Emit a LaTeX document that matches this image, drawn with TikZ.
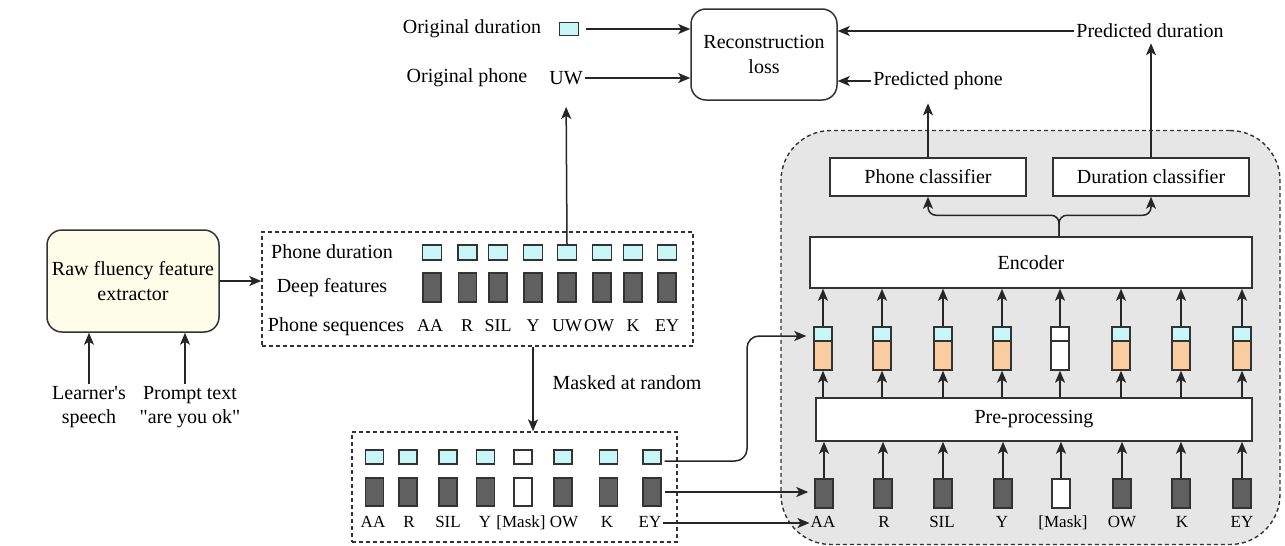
\documentclass[tikz,border=0pt]{standalone}
\usepackage{fontspec}
\setmainfont{Liberation Serif}[Ligatures=TeXOff]
\usetikzlibrary{arrows.meta,calc}

\definecolor{edge}{HTML}{333333}
\definecolor{dur}{HTML}{C9F6F7}
\definecolor{feat}{HTML}{606060}
\definecolor{emb}{HTML}{FACDA0}
\definecolor{panelgray}{HTML}{E6E6E6}
\definecolor{rawfill}{HTML}{FEFDE9}

\tikzset{
  txt/.style={font=\fontsize{20}{24.5}\selectfont, inner sep=2pt, align=center},
  phonelbl/.style={font=\fontsize{18}{22}\selectfont, text height=13pt, text depth=4pt, inner sep=1pt},
  smalllbl/.style={phonelbl, font=\fontsize{17}{21}\selectfont},
  box/.style={txt, draw=edge, line width=1.5pt, fill=white},
  roundbox/.style={box, rounded corners=15pt},
  dashbox/.style={draw=edge, line width=1.4pt, dash pattern=on 4pt off 3pt},
  panel/.style={draw=edge, line width=1.4pt, dash pattern=on 4pt off 3pt,
    fill=panelgray, rounded corners=50pt},
  cell/.style={draw=edge, line width=1.4pt, inner sep=0pt, minimum width=18pt},
  durcell/.style={cell, fill=dur, minimum height=14pt},
  featcell/.style={cell, fill=feat, minimum height=29pt},
  embcell/.style={cell, fill=emb, minimum height=29pt},
  maskcell/.style={fill=white},
  arr/.style={-{Stealth[length=12pt,width=10pt,inset=3pt]}, line width=1.5pt, draw=black!85},
}

\begin{document}
\begin{tikzpicture}[x=1pt,y=-1pt]
\useasboundingbox (0,0) rectangle (1285,546);

% ---------- model panel ----------
\node[panel, minimum width=499pt, minimum height=414pt] (panel) at (1030.5,337.5) {};

% ---------- reconstruction loss ----------
\node[roundbox, minimum width=146pt, minimum height=91pt] (rec) at (764,54.5)
  {Reconstruction\\loss};
\node[txt] (od) at (472,29) {Original duration};
\node[durcell, minimum width=19pt, minimum height=13pt] (odsq) at (569,29) {};
\node[txt] (op) at (467,78) {Original phone};
\node[txt] (uw) at (566,78) {UW};
\node[txt] (pd) at (1150,31) {Predicted duration};
\node[txt] (pp) at (938,81) {Predicted phone};

\draw[arr, shorten <=7pt] (odsq.east) -- (odsq.east -| rec.west);
\draw[arr] (uw.east) -- (uw.east -| rec.west);
\draw[arr] (pd.west) -- (pd.west -| rec.east);
\draw[arr] (pp.west) -- (pp.west -| rec.east);

% ---------- feature extractor ----------
\node[roundbox, fill=rawfill, minimum width=172pt, minimum height=102pt] (raw) at (133,281)
  {Raw fluency feature\\extractor};
\node[txt] (ls) at (89,407) {Learner's\\speech};
\node[txt] (pt) at (190,407) {Prompt text\\"are you ok"};
\draw[arr] (ls.north) -- (ls.north |- raw.south);
\draw[arr] ([xshift=-5pt]pt.north) -- ([xshift=-5pt]pt.north |- raw.south);

% ---------- extracted features ----------
\node[dashbox, minimum width=431pt, minimum height=114pt] (feats) at (477.5,289) {};
\node[txt] (lpd) at (332,252) {Phone duration};
\node[txt] (ldf) at (332,288) {Deep features};
\node[txt] (lps) at (336,327) {Phone sequences};
\foreach \x [count=\i] in {432,467.5,498,533,567,602,633,667}{
  \node[durcell, minimum width=19pt, minimum height=15pt] (c\i) at (\x,252.5) {};
  \node[featcell] (d\i) at (\x,287.5) {};
}
\foreach \x/\t [count=\i] in {430/AA,467/R,498/SIL,533/Y,567/UW,599/OW,633/K,667/EY}{
  \node[phonelbl] (p\i) at (\x,327) {\t};
}
\draw[arr] (raw.east) -- (raw.east -| feats.west);
\draw[arr, shorten >=20pt] (c5.north) -- (uw.south);

% ---------- masked features ----------
\node[dashbox, minimum width=325pt, minimum height=110pt] (masked) at (514.5,487) {};
\foreach \x [count=\i] in {374.5,408,448,485.5,523,563,608.5,652}{
  \node[durcell] (e\i) at (\x,457) {};
  \node[featcell, minimum height=28pt] (f\i) at (\x,492) {};
}
\node[durcell, maskcell] at (e5) {};
\node[featcell, maskcell, minimum height=28pt] at (f5) {};
\foreach \x/\t [count=\i] in {373/AA,409/R,448/SIL,485/Y,521/[Mask],564/OW,607/K,650/EY}{
  \node[smalllbl] (g\i) at (\x,523) {\t};
}
\draw[arr] (c4 |- feats.south) -- (c4 |- masked.north);
\node[txt] (mar) at (627,383) {Masked at random};

% ---------- model ----------
\node[box, minimum width=196pt, minimum height=38pt] (phc) at (928,177) {Phone classifier};
\node[box, minimum width=196pt, minimum height=38pt] (dc) at (1151,177) {Duration classifier};
\node[box, minimum width=442pt, minimum height=51pt] (enc) at (1031,262.5) {Encoder};
\node[box, minimum width=436pt, minimum height=43pt] (pre) at (1034,419.5) {Pre-processing};

\foreach \x [count=\i] in {823,882,943,1002,1060,1121,1181,1242}{
  \node[durcell] (sc\i) at (\x,334) {};
  \node[embcell] (so\i) at (\x,355.5) {};
  \draw[arr] (sc\i.north) -- (sc\i.north |- enc.south);
  \draw[arr] (so\i.south |- pre.north) -- (so\i.south);
}
\node[durcell, maskcell] at (sc5) {};
\node[embcell, maskcell] at (so5) {};

\foreach \x [count=\i] in {824,883,943,1003,1061,1122,1181,1242}{
  \node[featcell] (b\i) at (\x,493.5) {};
  \draw[arr] (b\i.north) -- (b\i.north |- pre.south);
}
\node[featcell, maskcell] at (b5) {};
\foreach \x/\t [count=\i] in {823/AA,884/R,942/SIL,1002/Y,1063/[Mask],1122/OW,1182/K,1242/EY}{
  \node[smalllbl] (h\i) at (\x,523) {\t};
}

% encoder output split to the two classifiers
\coordinate (fork) at ($(enc.north)+(28,-21)$);
\draw[arr, rounded corners=8pt] (fork |- enc.north) -- (fork) -| (phc.south);
\draw[arr, rounded corners=8pt] (fork |- enc.north) -- (fork) -| (dc.south);
\draw[arr, shorten >=11pt] (phc.north) -- (phc.north |- pp.south);
\draw[arr, shorten >=3pt] (dc.north) -- (dc.north |- pd.south);

% masked inputs into the model
\coordinate (bend) at (747,0);
\draw[arr, rounded corners=12pt, shorten <=3pt, shorten >=7pt]
  ([yshift=-4pt]e8.east) -- ([yshift=-4pt]e8.east -| bend) |- ([yshift=-2pt]sc1.west);
\draw[arr, shorten <=3pt, shorten >=6pt] (f8.east) -- (f8.east -| b1.west);
\draw[arr] (g8.east) -- (g8.east -| h1.west);
\end{tikzpicture}
\end{document}
